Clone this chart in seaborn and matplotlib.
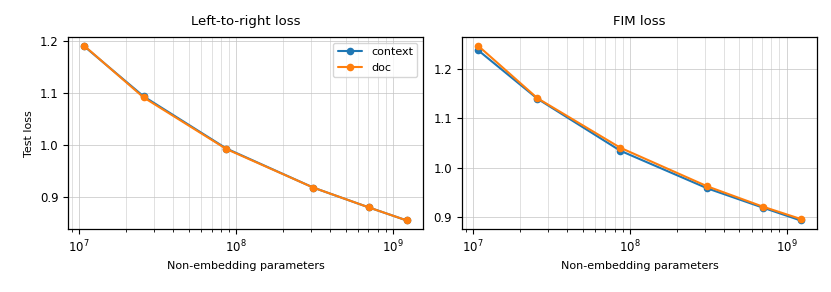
import pandas as pd
import matplotlib
matplotlib.use("Agg")
import matplotlib.pyplot as plt
from matplotlib.ticker import MultipleLocator
import seaborn as sns

# model sizes (non-embedding parameters)
params = [1.08e7, 2.58e7, 8.7e7, 3.12e8, 7.05e8, 1.23e9]

# left-to-right test loss
l2r_context = [1.189, 1.093, 0.993, 0.918, 0.880, 0.855]
l2r_doc = [1.190, 1.091, 0.992, 0.918, 0.880, 0.855]

# FIM test loss
fim_context = [1.237, 1.139, 1.034, 0.958, 0.919, 0.893]
fim_doc = [1.246, 1.140, 1.040, 0.962, 0.921, 0.896]

series_names = ["context", "doc"]


def make_frame(context, doc):
    rows = []
    for name, vals in zip(series_names, [context, doc]):
        for p, v in zip(params, vals):
            rows.append({"params": p, "loss": v, "mode": name})
    return pd.DataFrame(rows)


sns.set_theme(style="ticks")
plt.rcParams["font.family"] = ["DejaVu Sans"]
plt.rcParams["font.size"] = 8.5
plt.rcParams["axes.edgecolor"] = "black"
plt.rcParams["xtick.color"] = "black"
plt.rcParams["ytick.color"] = "black"
plt.rcParams["text.color"] = "black"
plt.rcParams["axes.labelcolor"] = "black"

fig, axes = plt.subplots(1, 2, figsize=(8.31, 2.92), dpi=100)
palette = {"context": "#1f77b4", "doc": "#ff7f0e"}

panels = [
    (axes[0], make_frame(l2r_context, l2r_doc), "Left-to-right loss"),
    (axes[1], make_frame(fim_context, fim_doc), "FIM loss"),
]

for i, (ax, df, title) in enumerate(panels):
    sns.lineplot(data=df, x="params", y="loss", hue="mode", palette=palette,
                 marker="o", markersize=5.5, markeredgewidth=0, linewidth=1.5,
                 ax=ax, legend=(i == 0))
    ax.set_xscale("log")
    ax.yaxis.set_major_locator(MultipleLocator(0.1))
    ax.margins(x=0.05, y=0.05)
    ax.grid(which="major", color="#c4c4c4", linewidth=0.5)
    ax.grid(which="minor", axis="x", color="#d4d4d4", linewidth=0.5)
    ax.set_title(title, fontsize=9.5, pad=9, color="black")
    ax.set_xlabel("Non-embedding parameters", fontsize=8)
    ax.tick_params(labelsize=8.5, direction="out", length=3.5, width=0.8)
    ax.tick_params(which="minor", length=2, width=0.6)
    for s in ax.spines.values():
        s.set_linewidth(0.9)

axes[0].set_ylabel("Test loss", fontsize=8)
axes[1].set_ylabel("")
axes[0].legend(loc="upper right", fontsize=8, title=None, framealpha=0.8,
               borderpad=0.4, handlelength=2.2)

plt.subplots_adjust(left=0.082, right=0.983, top=0.873, bottom=0.215, wspace=0.11)
plt.savefig("out.png", dpi=100)
